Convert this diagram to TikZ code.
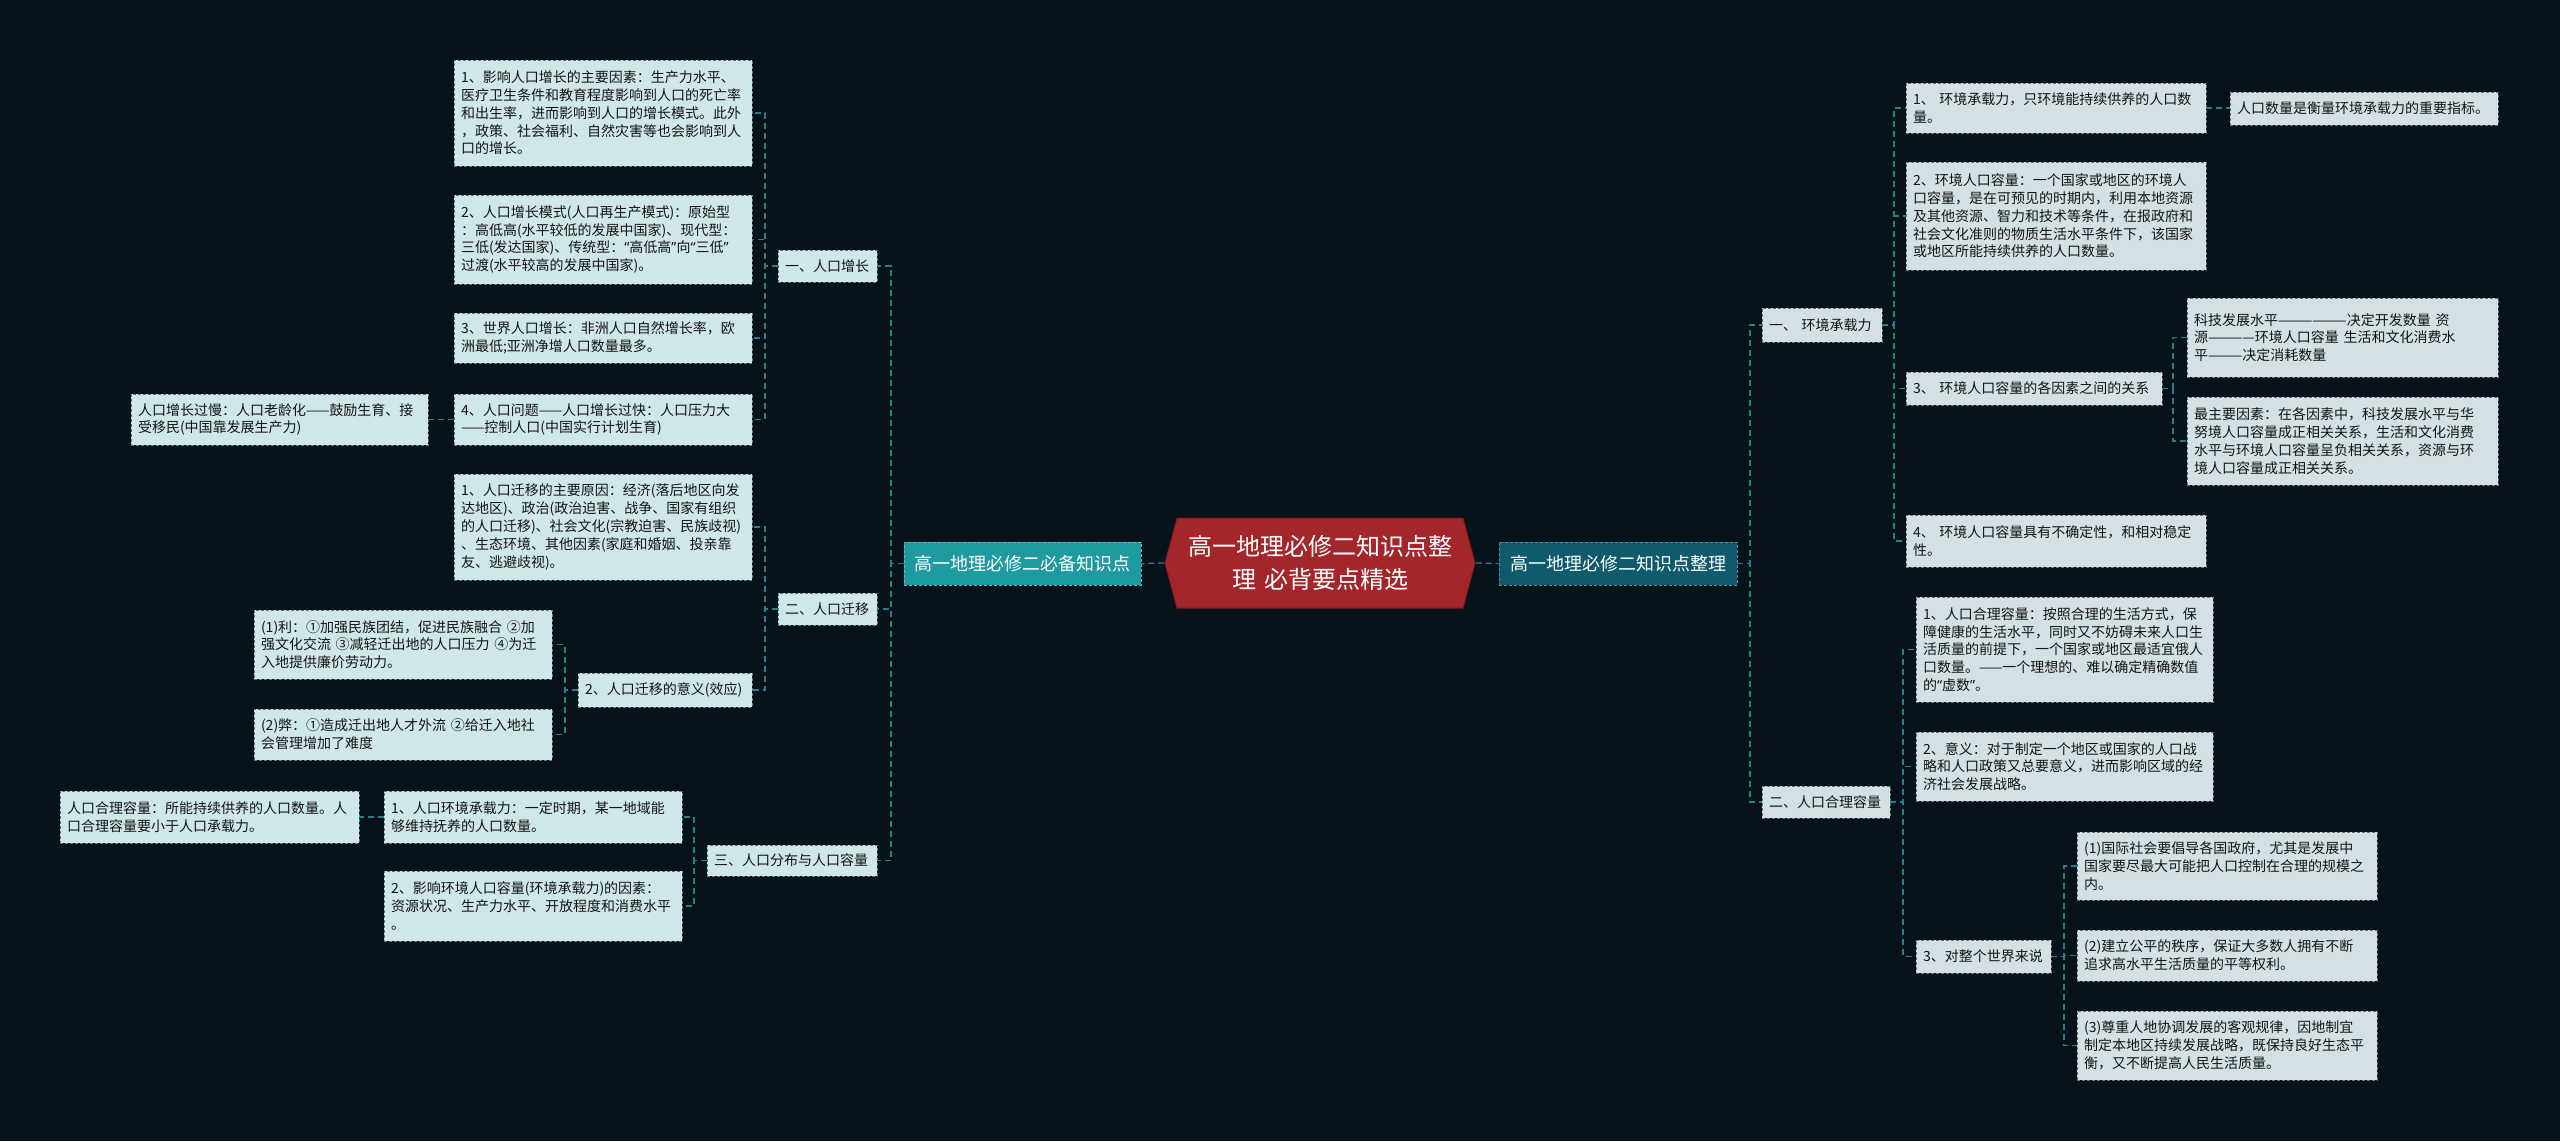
\documentclass[tikz,border=0pt]{standalone}
\usepackage{fontspec}
\newfontfamily\cjk{Noto Sans CJK SC}
\newfontfamily\latq{Noto Sans}
\usetikzlibrary{shapes.symbols}
\definecolor{bgc}{HTML}{06131B}
\definecolor{fillL}{HTML}{D0E7E9}
\definecolor{fillR}{HTML}{D3E1E5}
\definecolor{edgec}{HTML}{5F777B}
\definecolor{connc}{HTML}{2B7E85}
\definecolor{lmc}{HTML}{1E9BA1}
\definecolor{rmc}{HTML}{0F5A6D}
\definecolor{rootc}{HTML}{A2262A}
\definecolor{rootedge}{HTML}{7E1A1E}
\definecolor{txt}{HTML}{141414}
\newcommand\qo{{\latq “}}
\newcommand\qc{{\latq ”}}
\newcommand\bx[7]{%
  \pgfmathsetmacro\bxw{#5-#3}%
  \pgfmathsetmacro\bxh{#6-#4}%
  \pgfmathsetmacro\bxcx{(#3+#5)/2}%
  \pgfmathsetmacro\bxcy{(#4+#6)/2}%
  \pgfmathsetmacro\bxtw{#5-#3-14}%
  \node[#2, minimum width=\bxw pt, minimum height=\bxh pt, text width=\bxtw pt] (#1) at (\bxcx,\bxcy) {#7};%
}
\begin{document}
\begin{tikzpicture}[x=1pt,y=-1pt,
  leafbase/.style={draw=edgec, dash pattern=on 3pt off 2pt, line width=0.9pt, text=txt,
    font=\cjk\fontsize{14}{17.8}\selectfont, align=left, inner xsep=7pt, inner ysep=0pt},
  leafL/.style={leafbase, fill=fillL},
  leafR/.style={leafbase, fill=fillR},
  mainL/.style={draw=lmc!70!white, dash pattern=on 3pt off 2pt, line width=0.9pt, fill=lmc, text=white,
    font=\cjk\fontsize{18}{22}\selectfont, align=center, inner xsep=7pt, inner ysep=0pt},
  mainR/.style={mainL, fill=rmc, draw=rmc!70!white},
  rootnode/.style={signal, signal to=west and east, signal pointer angle=150, fill=rootc, draw=rootedge,
    line width=1pt, text=white, font=\cjk\fontsize{24}{33}\selectfont, align=center,
    text width=270pt, inner xsep=8pt, inner ysep=0pt, minimum height=90pt},
  conn/.style={draw=connc, line width=1.3pt, dash pattern=on 6pt off 4pt}]
\useasboundingbox (0,0) rectangle (2560,1141);
\fill[bgc] (0,0) rectangle (2560,1141);

% root and main branches
\node[rootnode] (root) at (1320,563) {高一地理必修二知识点整\\理 必背要点精选};
\bx{LM}{mainL}{904}{542}{1141}{585}{高一地理必修二必备知识点}
\bx{RM}{mainR}{1499}{542}{1737}{585}{高一地理必修二知识点整理}

% left level 2
\bx{A1}{leafL}{778}{250}{877}{282}{一、人口增长}
\bx{A2}{leafL}{778}{593}{877}{625}{二、人口迁移}
\bx{A3}{leafL}{707}{845}{877}{876}{三、人口分布与人口容量}

% left level 3
\bx{A1a}{leafL}{454}{60}{752}{166}{1、影响人口增长的主要因素：生产力水平、\\医疗卫生条件和教育程度影响到人口的死亡率\\和出生率，进而影响到人口的增长模式。此外\\，政策、社会福利、自然灾害等也会影响到人\\口的增长。}
\bx{A1b}{leafL}{454}{195}{752}{284}{2、人口增长模式(人口再生产模式)：原始型\\：高低高(水平较低的发展中国家)、现代型：\\三低(发达国家)、传统型：\qo 高低高\qc 向\qo 三低\qc\\过渡(水平较高的发展中国家)。}
\bx{A1c}{leafL}{454}{313}{752}{363}{3、世界人口增长：非洲人口自然增长率，欧\\洲最低;亚洲净增人口数量最多。}
\bx{A1d}{leafL}{454}{394}{752}{445}{4、人口问题——人口增长过快：人口压力大\\——控制人口(中国实行计划生育)}
\bx{A1dc}{leafL}{131}{394}{428}{445}{人口增长过慢：人口老龄化——鼓励生育、接\\受移民(中国靠发展生产力)}
\bx{A2a}{leafL}{454}{474}{752}{580}{1、人口迁移的主要原因：经济(落后地区向发\\达地区)、政治(政治迫害、战争、国家有组织\\的人口迁移)、社会文化(宗教迫害、民族歧视)\\、生态环境、其他因素(家庭和婚姻、投亲靠\\友、逃避歧视)。}
\bx{A2b}{leafL}{578}{673}{752}{707}{2、人口迁移的意义(效应)}
\bx{A2b1}{leafL}{254}{610}{552}{679}{(1)利：①加强民族团结，促进民族融合 ②加\\强文化交流 ③减轻迁出地的人口压力 ④为迁\\入地提供廉价劳动力。}
\bx{A2b2}{leafL}{254}{709}{552}{760}{(2)弊：①造成迁出地人才外流 ②给迁入地社\\会管理增加了难度}
\bx{A3a}{leafL}{384}{791}{682}{843}{1、人口环境承载力：一定时期，某一地域能\\够维持抚养的人口数量。}
\bx{A3b}{leafL}{384}{871}{682}{941}{2、影响环境人口容量(环境承载力)的因素：\\资源状况、生产力水平、开放程度和消费水平\\。}
\bx{A3ac}{leafL}{60}{791}{359}{843}{人口合理容量：所能持续供养的人口数量。人\\口合理容量要小于人口承载力。}

% right level 2
\bx{B1}{leafR}{1762}{308}{1882}{342}{一、 环境承载力}
\bx{B2}{leafR}{1762}{786}{1890}{818}{二、人口合理容量}

% right level 3
\bx{B1a}{leafR}{1906}{83}{2206}{133}{1、 环境承载力，只环境能持续供养的人口数\\量。}
\bx{B1ac}{leafR}{2230}{92}{2498}{125}{人口数量是衡量环境承载力的重要指标。}
\bx{B1b}{leafR}{1906}{162}{2206}{270}{2、环境人口容量：一个国家或地区的环境人\\口容量，是在可预见的时期内，利用本地资源\\及其他资源、智力和技术等条件，在报政府和\\社会文化准则的物质生活水平条件下，该国家\\或地区所能持续供养的人口数量。}
\bx{B1c}{leafR}{1906}{372}{2162}{405}{3、 环境人口容量的各因素之间的关系}
\bx{B1c1}{leafR}{2187}{298}{2498}{377}{科技发展水平——————决定开发数量 资\\源————环境人口容量 生活和文化消费水\\平———决定消耗数量}
\bx{B1c2}{leafR}{2187}{397}{2498}{485}{最主要因素：在各因素中，科技发展水平与华\\努境人口容量成正相关关系，生活和文化消费\\水平与环境人口容量呈负相关关系，资源与环\\境人口容量成正相关关系。}
\bx{B1d}{leafR}{1906}{515}{2206}{567}{4、 环境人口容量具有不确定性，和相对稳定\\性。}
\bx{B2a}{leafR}{1916}{597}{2213}{702}{1、人口合理容量：按照合理的生活方式，保\\障健康的生活水平，同时又不妨碍未来人口生\\活质量的前提下，一个国家或地区最适宜俄人\\口数量。——一个理想的、难以确定精确数值\\的\qo 虚数\qc 。}
\bx{B2b}{leafR}{1916}{732}{2213}{801}{2、意义：对于制定一个地区或国家的人口战\\略和人口政策又总要意义，进而影响区域的经\\济社会发展战略。}
\bx{B2c}{leafR}{1916}{940}{2051}{973}{3、对整个世界来说}
\bx{B2c1}{leafR}{2077}{832}{2377}{900}{(1)国际社会要倡导各国政府，尤其是发展中\\国家要尽最大可能把人口控制在合理的规模之\\内。}
\bx{B2c2}{leafR}{2077}{930}{2377}{981}{(2)建立公平的秩序，保证大多数人拥有不断\\追求高水平生活质量的平等权利。}
\bx{B2c3}{leafR}{2077}{1011}{2377}{1080}{(3)尊重人地协调发展的客观规律，因地制宜\\制定本地区持续发展战略，既保持良好生态平\\衡，又不断提高人民生活质量。}

% bus coordinates
\coordinate (b0) at (891,0);
\coordinate (b1) at (765,0);
\coordinate (b21) at (565,0);
\coordinate (b3) at (694,0);
\coordinate (r0) at (1750,0);
\coordinate (r1) at (1894,0);
\coordinate (r13) at (2173,0);
\coordinate (r2) at (1903,0);
\coordinate (r23) at (2064,0);

% connectors
\draw[conn] (root.west) -- (LM.east);
\draw[conn] (root.east) -- (RM.west);
\foreach \c in {A1,A2,A3} \draw[conn] (LM.west) -- (LM.west -| b0) |- (\c.east);
\foreach \c in {A1a,A1b,A1c,A1d} \draw[conn] (A1.west) -- (A1.west -| b1) |- (\c.east);
\foreach \c in {A2a,A2b} \draw[conn] (A2.west) -- (A2.west -| b1) |- (\c.east);
\foreach \c in {A2b1,A2b2} \draw[conn] (A2b.west) -- (A2b.west -| b21) |- (\c.east);
\foreach \c in {A3a,A3b} \draw[conn] (A3.west) -- (A3.west -| b3) |- (\c.east);
\draw[conn] (A1d.west) -- (A1dc.east);
\draw[conn] (A3a.west) -- (A3ac.east);
\foreach \c in {B1,B2} \draw[conn] (RM.east) -- (RM.east -| r0) |- (\c.west);
\foreach \c in {B1a,B1b,B1c,B1d} \draw[conn] (B1.east) -- (B1.east -| r1) |- (\c.west);
\foreach \c in {B1c1,B1c2} \draw[conn] (B1c.east) -- (B1c.east -| r13) |- (\c.west);
\foreach \c in {B2a,B2b,B2c} \draw[conn] (B2.east) -- (B2.east -| r2) |- (\c.west);
\foreach \c in {B2c1,B2c2,B2c3} \draw[conn] (B2c.east) -- (B2c.east -| r23) |- (\c.west);
\draw[conn] (B1a.east) -- (B1a.east -| B1ac.west);
\end{tikzpicture}
\end{document}
